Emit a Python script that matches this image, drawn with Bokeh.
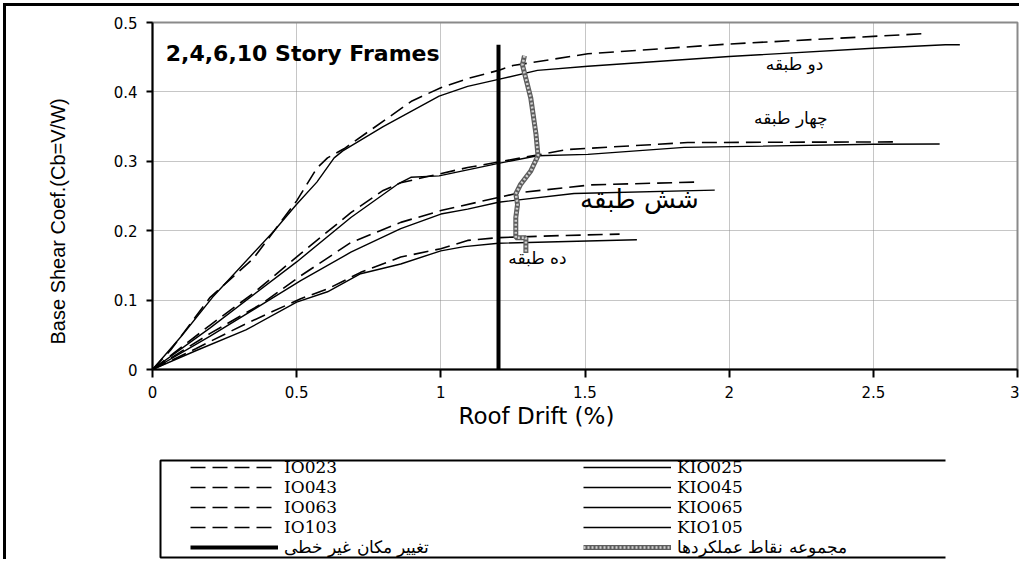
from bokeh.plotting import figure
from bokeh.layouts import column
from bokeh.models import Label, Legend, LegendItem, FixedTicker, Title
from bokeh.embed import file_html
from bokeh.resources import INLINE

# ---------------- data ----------------
x_ticks = [0, 0.5, 1, 1.5, 2, 2.5, 3]
x_tick_labels = ["0", "0.5", "1", "1.5", "2", "2.5", "3"]
y_ticks = [0, 0.1, 0.2, 0.3, 0.4, 0.5]
y_tick_labels = ["0", "0.1", "0.2", "0.3", "0.4", "0.5"]

io023_x = [0, 0.063, 0.2, 0.35, 0.5, 0.57, 0.607, 0.664, 0.9, 1.0, 1.1, 1.2, 1.25, 1.51, 2.0, 2.5, 2.68]
io023_y = [0, 0.028, 0.104, 0.16, 0.243, 0.29, 0.305, 0.318, 0.387, 0.406, 0.42, 0.431, 0.438, 0.455, 0.469, 0.48, 0.484]

io025_x = [0, 0.1, 0.208, 0.422, 0.5, 0.57, 0.63, 0.66, 0.8, 0.994, 1.093, 1.2, 1.335, 1.51, 2.0, 2.5, 2.75, 2.8]
io025_y = [0, 0.048, 0.104, 0.2, 0.238, 0.27, 0.305, 0.315, 0.35, 0.394, 0.408, 0.418, 0.431, 0.437, 0.451, 0.463, 0.468, 0.468]

io043_x = [0, 0.2, 0.35, 0.514, 0.688, 0.8, 0.861, 0.954, 1.093, 1.2, 1.44, 1.856, 2.58]
io043_y = [0, 0.064, 0.11, 0.167, 0.226, 0.258, 0.269, 0.278, 0.291, 0.299, 0.317, 0.327, 0.328]

io045_x = [0, 0.2, 0.5, 0.688, 0.85, 0.896, 0.994, 1.2, 1.335, 1.51, 1.844, 2.5, 2.73]
io045_y = [0, 0.06, 0.155, 0.219, 0.267, 0.277, 0.279, 0.297, 0.308, 0.31, 0.32, 0.3245, 0.325]

io063_x = [0, 0.2, 0.38, 0.514, 0.688, 0.861, 1.0, 1.2, 1.277, 1.52, 1.88]
io063_y = [0, 0.052, 0.095, 0.135, 0.183, 0.212, 0.229, 0.248, 0.255, 0.266, 0.27]

io065_x = [0, 0.2, 0.514, 0.688, 0.861, 1.0, 1.093, 1.2, 1.462, 1.95]
io065_y = [0, 0.048, 0.128, 0.169, 0.203, 0.224, 0.231, 0.241, 0.2537, 0.2585]

io103_x = [0, 0.15, 0.324, 0.514, 0.607, 0.722, 0.861, 1.0, 1.093, 1.2, 1.416, 1.62]
io103_y = [0, 0.03, 0.066, 0.102, 0.116, 0.14, 0.162, 0.174, 0.186, 0.19, 0.193, 0.195]

io105_x = [0, 0.15, 0.324, 0.5, 0.607, 0.722, 0.861, 1.0, 1.081, 1.2, 1.68]
io105_y = [0, 0.027, 0.057, 0.097, 0.112, 0.138, 0.152, 0.171, 0.177, 0.182, 0.187]

nonlinear_x = [1.2, 1.2]
nonlinear_y = [0.0, 0.468]

perf_x = [1.29, 1.283, 1.312, 1.33, 1.337, 1.312, 1.277, 1.26, 1.266, 1.26, 1.26, 1.295, 1.295]
perf_y = [0.452, 0.439, 0.391, 0.339, 0.308, 0.286, 0.267, 0.253, 0.238, 0.219, 0.19, 0.19, 0.168]

dashed_names = ["IO023", "IO043", "IO063", "IO103"]
solid_names = ["KIO025", "KIO045", "KIO065", "KIO105"]
nonlinear_name = "تغییر مکان غیر خطی"
perf_name = "مجموعه نقاط عملکردها"

story_labels = ["دو طبقه", "چهار طبقه", "شش طبقه", "ده طبقه"]
story_label_x = [2.227, 2.214, 1.689, 1.335]
story_label_y = [0.44, 0.362, 0.246, 0.161]
story_label_size = ["17px", "17px", "26px", "17px"]

title_text = "2,4,6,10 Story Frames"
x_label = "Roof Drift (%)"
y_label = "Base Shear Coef.(Cb=V/W)"

# ---------------- main figure ----------------
p = figure(width=1013, height=435, x_range=(0, 3), y_range=(0, 0.5),
           output_backend="svg", toolbar_location=None,
           min_border_left=146, min_border_top=16, min_border_right=2, min_border_bottom=72)
p.background_fill_color = "white"
p.border_fill_color = "white"
p.outline_line_color = "#8a8a8a"
p.outline_line_width = 2

for ax in (p.xaxis[0], p.yaxis[0]):
    ax.axis_line_color = "black"
    ax.axis_line_width = 2
    ax.major_tick_line_color = "black"
    ax.major_tick_line_width = 2
    ax.minor_tick_line_color = None
    ax.major_tick_in = 0
    ax.major_label_text_font = "DejaVu Sans"
    ax.major_label_text_font_size = "15px"
    ax.major_label_text_color = "black"

p.xaxis.ticker = FixedTicker(ticks=x_ticks)
p.xaxis.major_label_overrides = dict(zip(x_ticks, x_tick_labels))
p.xaxis.major_tick_out = 8
p.xaxis.major_label_standoff = 8
p.yaxis.ticker = FixedTicker(ticks=y_ticks)
p.yaxis.major_label_overrides = dict(zip(y_ticks, y_tick_labels))
p.yaxis.major_tick_out = 6
p.yaxis.major_label_standoff = 9

p.xgrid.ticker = FixedTicker(ticks=x_ticks)
p.ygrid.ticker = FixedTicker(ticks=y_ticks)
for g in (p.xgrid[0], p.ygrid[0]):
    g.grid_line_color = "#8c8c8c"
    g.grid_line_dash = "1 1"
    g.grid_line_width = 1

DASH = "15 7"
dashed_style = dict(line_color="black", line_width=1.6, line_dash=DASH)
solid_style = dict(line_color="black", line_width=1.4)
nl_style = dict(line_color="black", line_width=4)
perf_outer = dict(line_color="#5e5e5e", line_width=5)
perf_inner = dict(line_color="#d0d0d0", line_width=2.5, line_dash="2 2")

p.line(io023_x, io023_y, **dashed_style)
p.line(io043_x, io043_y, **dashed_style)
p.line(io063_x, io063_y, **dashed_style)
p.line(io103_x, io103_y, **dashed_style)
p.line(io025_x, io025_y, **solid_style)
p.line(io045_x, io045_y, **solid_style)
p.line(io065_x, io065_y, **solid_style)
p.line(io105_x, io105_y, **solid_style)
p.line(nonlinear_x, nonlinear_y, **nl_style)
p.line(perf_x, perf_y, **perf_outer)
p.line(perf_x, perf_y, **perf_inner)

p.add_layout(Label(x=0.046, y=0.4555, text=title_text, text_font="DejaVu Sans",
                   text_font_style="bold", text_font_size="22px", text_baseline="middle",
                   text_color="black"))
for t, lx, ly, fs in zip(story_labels, story_label_x, story_label_y, story_label_size):
    p.add_layout(Label(x=lx, y=ly, text=t, text_font="DejaVu Sans", text_font_size=fs,
                       text_align="center", text_baseline="middle", text_color="black"))

p.add_layout(Title(text=y_label, align="left", offset=25, standoff=79, vertical_align="top",
                   text_font="Liberation Sans", text_font_size="20px",
                   text_font_style="normal", text_color="black"), "left")
p.add_layout(Title(text=x_label, align="left", offset=306, standoff=0,
                   text_font="DejaVu Sans", text_font_size="23px",
                   text_font_style="normal", text_color="black"), "below")

# ---------------- legend strip ----------------
H2 = 118
q = figure(width=1013, height=H2, x_range=(152, 1017), y_range=(0, H2),
           output_backend="svg", toolbar_location=None,
           x_axis_location=None, y_axis_location=None, min_border=0)
q.outline_line_color = None
q.grid.visible = False
q.background_fill_color = "white"
q.border_fill_color = "white"

# open-sided legend frame (top, left, bottom)
legend_frame_x = [945, 160, 160, 945]
legend_frame_y = [99, 99, 2, 2]
q.line(legend_frame_x, legend_frame_y, line_color="black", line_width=2)

# legend samples (single off-screen point each, only for the legend glyphs)
sample_x = [-1000]
sample_y = [-1000]
s_d = [q.line(sample_x, sample_y, **dashed_style) for _ in dashed_names]
s_s = [q.line(sample_x, sample_y, **solid_style) for _ in solid_names]
s_nl = q.line(sample_x, sample_y, **nl_style)
s_p1 = q.line(sample_x, sample_y, **perf_outer)
s_p2 = q.line(sample_x, sample_y, **perf_inner)

items = ([LegendItem(label=n, renderers=[r]) for n, r in zip(dashed_names, s_d)]
         + [LegendItem(label=nonlinear_name, renderers=[s_nl])]
         + [LegendItem(label=n, renderers=[r]) for n, r in zip(solid_names, s_s)]
         + [LegendItem(label=perf_name, renderers=[s_p1, s_p2])])
legend = Legend(items=items, location=(36, 0), ncols=2, orientation="vertical",
                glyph_width=88, glyph_height=18, label_height=18, label_width=299,
                label_standoff=6, spacing=0, padding=2, margin=0,
                label_text_font="DejaVu Serif", label_text_font_size="17px",
                label_text_color="black", label_text_baseline="middle",
                border_line_alpha=0, background_fill_alpha=0)
q.add_layout(legend)

layout = column(p, q, spacing=0)
layout.styles = {"border-top": "3px solid black", "border-left": "3px solid black",
                 "margin-left": "3px", "margin-top": "3px"}

open("out.html", "w").write(file_html(layout, INLINE))
